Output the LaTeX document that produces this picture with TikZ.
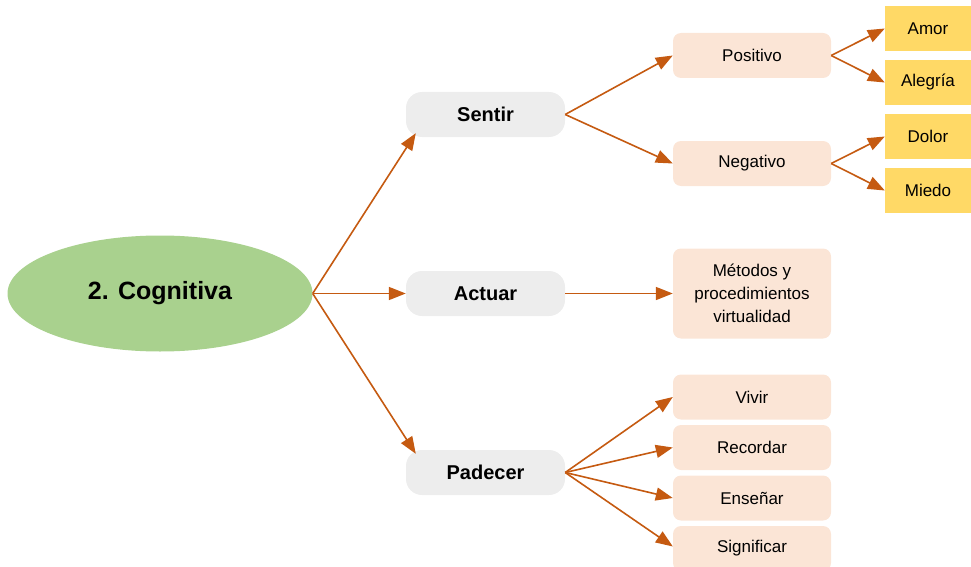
\documentclass[tikz,border=0pt]{standalone}
\usepackage{fontspec}
\setmainfont{Liberation Sans}
\usepackage{tikz}
\usetikzlibrary{arrows.meta,calc,shapes.geometric}
\definecolor{leafgreen}{HTML}{A9D18E}
\definecolor{pillgrey}{HTML}{EDEDED}
\definecolor{peach}{HTML}{FBE5D6}
\definecolor{sunyellow}{HTML}{FFD966}
\definecolor{rustorange}{HTML}{C55A11}
\tikzstyle{rootnode}=[ellipse,fill=leafgreen,inner sep=0pt,
                      minimum width=305pt,minimum height=116pt,
                      font=\fontsize{25}{30}\selectfont\bfseries]
\tikzstyle{pillnode}=[rectangle,rounded corners=16pt,fill=pillgrey,
                      minimum width=159pt,minimum height=45pt,
                      font=\fontsize{20}{24}\selectfont\bfseries]
\tikzstyle{peachnode}=[rectangle,rounded corners=8pt,fill=peach,
                       minimum width=158pt,minimum height=45pt,align=center,
                       font=\fontsize{17}{23}\selectfont]
\tikzstyle{yellownode}=[rectangle,fill=sunyellow,
                        minimum width=86pt,minimum height=45pt,
                        font=\fontsize{17}{23}\selectfont]
\tikzstyle{link}=[draw=rustorange,line width=1.6pt,
                  -{Triangle[length=17pt,width=13pt]}]

\begin{document}
\begin{tikzpicture}[x=1pt,y=-1pt]
    \useasboundingbox (0,0) rectangle (971,567);
    \node (cog) at (160,293.5) [rootnode]{2. Cognitiva};
    \node (sentir) at (485.5,114.5) [pillnode]{Sentir};
    \node (actuar) at (485.5,293.5) [pillnode]{Actuar};
    \node (padecer) at (485.5,472.5) [pillnode]{Padecer};
    \node (positivo) at (752,55.5) [peachnode]{Positivo};
    \node (negativo) at (752,163.5) [peachnode]{Negativo};
    \node (metodos) at (752,293.5) [peachnode,minimum height=90pt]
          {Métodos y\\procedimientos\\virtualidad};
    \node (vivir) at (752,397) [peachnode]{Vivir};
    \node (recordar) at (752,447.5) [peachnode]{Recordar};
    \node (ensenar) at (752,498) [peachnode]{Enseñar};
    \node (significar) at (752,548.5) [peachnode]{Significar};
    \node (amor) at (928,28.5) [yellownode]{Amor};
    \node (alegria) at (928,82.5) [yellownode]{Alegría};
    \node (dolor) at (928,136.5) [yellownode]{Dolor};
    \node (miedo) at (928,190.5) [yellownode]{Miedo};
    % first level
    \draw[link] (cog.east) -- ($(sentir.south west)+(10,-4)$);
    \draw[link] (cog.east) -- (actuar.west);
    \draw[link] (cog.east) -- ($(padecer.north west)+(10,4)$);
    % second level
    \draw[link] (sentir.east) -- (positivo.west);
    \draw[link] (sentir.east) -- (negativo.west);
    \draw[link] (actuar.east) -- (metodos.west);
    \draw[link] (padecer.east) -- (vivir.west);
    \draw[link] (padecer.east) -- (recordar.west);
    \draw[link] (padecer.east) -- (ensenar.west);
    \draw[link] (padecer.east) -- ($(significar.west)+(0,-2)$);
    % third level
    \draw[link] (positivo.east) -- (amor.west);
    \draw[link] (positivo.east) -- (alegria.west);
    \draw[link] (negativo.east) -- (dolor.west);
    \draw[link] (negativo.east) -- (miedo.west);
  \end{tikzpicture}
\end{document}
